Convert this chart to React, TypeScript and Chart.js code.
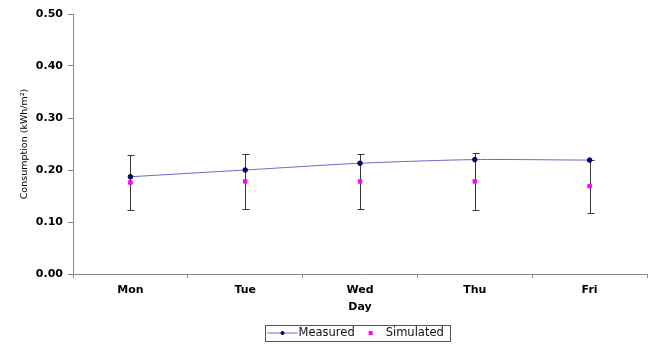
import React, { useEffect, useRef } from "react";
import { Chart, registerables } from "chart.js";

Chart.register(...registerables);

const days = ["Mon", "Tue", "Wed", "Thu", "Fri"];
const measured = [0.187, 0.2, 0.213, 0.22, 0.219];
const simulated = [0.176, 0.178, 0.178, 0.178, 0.169];
const simulatedError = [0.053, 0.053, 0.053, 0.054, 0.051];
const yTicks = [0, 0.1, 0.2, 0.3, 0.4, 0.5];

const FONT = "'DejaVu Sans', 'Liberation Sans', sans-serif";

const errorBars = {
  id: "errorBars",
  beforeDatasetsDraw(chart: any) {
    const ctx = chart.ctx;
    const yScale = chart.scales.y;
    chart.data.datasets.forEach((ds: any, di: number) => {
      if (!ds.errors) return;
      const meta = chart.getDatasetMeta(di);
      ctx.save();
      ctx.strokeStyle = "#3a3a3a";
      ctx.lineWidth = 1;
      meta.data.forEach((pt: any, i: number) => {
        const v = ds.data[i];
        const e = ds.errors[i];
        const x = Math.round(pt.x) + 0.5;
        const yt = Math.round(yScale.getPixelForValue(v + e)) + 0.5;
        const yb = Math.round(yScale.getPixelForValue(v - e)) + 0.5;
        ctx.beginPath();
        ctx.moveTo(x, yt);
        ctx.lineTo(x, yb);
        ctx.moveTo(x - 3, yt);
        ctx.lineTo(x + 4, yt);
        ctx.moveTo(x - 3, yb);
        ctx.lineTo(x + 4, yb);
        ctx.stroke();
      });
      ctx.restore();
    });
  },
};

const boxedLegend = {
  id: "boxedLegend",
  afterDraw(chart: any) {
    const ctx = chart.ctx;
    const area = chart.chartArea;
    const dss = chart.data.datasets;
    ctx.save();
    ctx.font = "11.5px " + FONT;
    ctx.textBaseline = "middle";
    const markW = 30;
    const gapItems = 1;
    const textOff = (d: any) => (d.showLine !== false ? markW + 1 : markW);
    const widths = dss.map((d: any) => ctx.measureText(d.label).width);
    let total = 2;
    dss.forEach((d: any, i: number) => {
      total += textOff(d) + widths[i];
      if (i < dss.length - 1) total += gapItems;
    });
    total += 7;
    const cy = chart.height - 12;
    const left = Math.round((area.left + area.right) / 2 - total / 2 - 2) + 0.5;
    const top = Math.round(cy - 8) + 0.5;
    ctx.strokeStyle = "#555";
    ctx.lineWidth = 1;
    ctx.strokeRect(left, top, Math.round(total), 16);
    let x = left + 2;
    dss.forEach((d: any, i: number) => {
      const mx = x + markW / 2;
      if (d.showLine !== false) {
        ctx.strokeStyle = d.borderColor;
        ctx.lineWidth = 1;
        ctx.beginPath();
        ctx.moveTo(x, cy);
        ctx.lineTo(x + markW, cy);
        ctx.stroke();
      }
      ctx.fillStyle = d.pointBackgroundColor;
      if (d.pointStyle === "rect") {
        ctx.fillRect(mx - 2, cy - 2, 4, 4);
      } else {
        ctx.beginPath();
        ctx.arc(mx, cy, 2, 0, Math.PI * 2);
        ctx.fill();
      }
      ctx.fillStyle = "#111";
      ctx.fillText(d.label, x + textOff(d), cy);
      x += textOff(d) + widths[i] + gapItems;
    });
    ctx.restore();
  },
};

export default function App() {
  const ref = useRef<HTMLCanvasElement>(null);
  useEffect(() => {
    if (!ref.current) return;
    const chart = new Chart(ref.current, {
      type: "line",
      data: {
        labels: days,
        datasets: [
          {
            label: "Measured",
            data: measured,
            borderColor: "#6a6ac8",
            borderWidth: 1,
            backgroundColor: "#000070",
            pointBackgroundColor: "#000070",
            pointBorderColor: "#000070",
            pointRadius: 2.3,
            pointStyle: "circle",
            tension: 0.25,
          },
          {
            label: "Simulated",
            data: simulated,
            errors: simulatedError,
            showLine: false,
            borderColor: "#ff00ff",
            backgroundColor: "#ff00ff",
            pointBackgroundColor: "#ff00ff",
            pointBorderColor: "#ff00ff",
            pointStyle: "rect",
            pointRadius: 2.5,
          } as any,
        ],
      },
      options: {
        responsive: false,
        animation: false,
        layout: { autoPadding: false, padding: { top: 14, right: 2, bottom: 26, left: 0 } },
        plugins: {
          legend: { display: false },
          tooltip: { enabled: false },
        },
        scales: {
          x: {
            offset: true,
            grid: {
              offset: true,
              drawOnChartArea: false,
              drawTicks: true,
              tickLength: 4,
              color: "#888",
            },
            border: { color: "#888", width: 1 },
            ticks: {
              color: "#000",
              padding: 6,
              font: { family: FONT, size: 11, weight: "bold" },
            },
            title: {
              display: true,
              text: "Day",
              color: "#000",
              font: { family: FONT, size: 11, weight: "bold" },
              padding: { top: 0, bottom: 5 },
            },
            afterFit(scale: any) {
              scale.height = 45;
              scale.paddingLeft = 0;
              scale.paddingRight = 0;
            },
          },
          y: {
            min: 0,
            max: 0.5,
            grid: {
              drawOnChartArea: false,
              drawTicks: true,
              tickLength: 5,
              color: "#888",
            },
            border: { color: "#888", width: 1 },
            afterBuildTicks(scale: any) {
              scale.ticks = yTicks.map((v) => ({ value: v }));
            },
            ticks: {
              color: "#000",
              padding: 5,
              font: { family: FONT, size: 11, weight: "bold" },
              callback: (v: any) => Number(v).toFixed(2),
            },
            title: {
              display: true,
              text: "Consumption (kWh/m²)",
              color: "#000",
              font: { family: FONT, size: 9.5 },
              padding: { top: 19, bottom: 0 },
            },
            afterFit(scale: any) {
              scale.width = 73;
            },
          },
        },
      },
      plugins: [errorBars, boxedLegend],
    } as any);
    return () => chart.destroy();
  }, []);
  return (
    <div style={{ position: "fixed", left: 0, top: 0, width: 649, height: 345, background: "#fff" }}>
      <canvas ref={ref} width={649} height={345} style={{ width: 649, height: 345, display: "block" }} />
    </div>
  );
}
